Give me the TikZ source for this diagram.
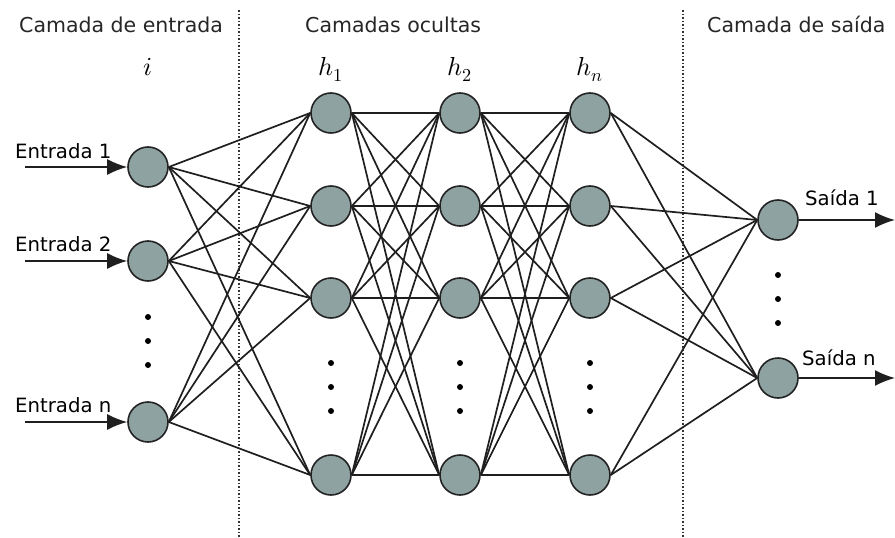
\documentclass[tikz,border=0pt]{standalone}
\usepackage{fontspec}
\setmainfont{DejaVu Sans}
\usepackage{unicode-math}
\setmathfont{Latin Modern Math}
\usetikzlibrary{arrows.meta}
\definecolor{neuronfill}{RGB}{142,162,162}
\definecolor{neuronline}{RGB}{35,35,35}
\begin{document}
\begin{tikzpicture}[x=1pt,y=-1pt,
  neuron/.style={circle,draw=neuronline,fill=neuronfill,line width=1.6pt,minimum size=40pt,inner sep=0pt},
  link/.style={line width=1.7pt,draw=black!88},
  io/.style={line width=1.7pt,draw=black!88,-{Latex[length=20pt,width=16pt]}},
  sep/.style={line width=1.5pt,dash pattern=on 1.5pt off 2pt,draw=black!80},
  head/.style={anchor=base west,inner sep=0pt,font=\fontsize{20.5}{24}\selectfont,text=black!85},
  iolabel/.style={anchor=base west,inner sep=0pt,font=\fontsize{19.7}{23}\selectfont},
  layerlabel/.style={anchor=base,inner sep=0pt,font=\fontsize{26}{30}\selectfont},
  dot/.style={circle,fill=black,minimum size=6pt,inner sep=0pt}]
\useasboundingbox (0,0) rectangle (895,538);

% layer separators
\draw[sep] (239,10) -- (239,538);
\draw[sep] (683,10) -- (683,538);

% headings
\node[head] (hin) at (19,32) {Camada de entrada};
\node[head] (hhid) at (305,32) {Camadas ocultas};
\node[head] (hout) at (707,32) {Camada de saída};

% layer symbols
\node[layerlabel] (li) at (148,75) {$i$};
\node[layerlabel] (lh1) at (331,75) {$h_{1}$};
\node[layerlabel] (lh2) at (460,75) {$h_{2}$};
\node[layerlabel] (lhn) at (590,75) {$h_{n}$};

% input layer
\node[neuron] (i1) at (148,167) {};
\node[neuron] (i2) at (148,261) {};
\node[neuron] (i3) at (148,422) {};
\node[dot] (di1) at (148,317) {};
\node[dot] (di2) at (148,341) {};
\node[dot] (di3) at (148,365) {};

% hidden layers
\foreach \c/\x in {a/331,b/460,c/590}{
  \node[neuron] (\c1) at (\x,113) {};
  \node[neuron] (\c2) at (\x,206) {};
  \node[neuron] (\c3) at (\x,298) {};
  \node[neuron] (\c4) at (\x,475) {};
  \node[dot] (\c d1) at (\x,363) {};
  \node[dot] (\c d2) at (\x,387) {};
  \node[dot] (\c d3) at (\x,411) {};
}

% output layer
\node[neuron] (o1) at (778,220) {};
\node[neuron] (o2) at (778,378) {};
\node[dot] (do1) at (778,275) {};
\node[dot] (do2) at (778,299) {};
\node[dot] (do3) at (778,323) {};

% fully connected weights between consecutive layers
\foreach \s in {1,2,3}{\foreach \t in {1,2,3,4}{\draw[link] (i\s.east) -- (a\t.west);}}
\foreach \s in {1,2,3,4}{\foreach \t in {1,2,3,4}{
  \draw[link] (a\s.east) -- (b\t.west);
  \draw[link] (b\s.east) -- (c\t.west);}}
\foreach \s in {1,2,3,4}{\foreach \t in {1,2}{\draw[link] (c\s.east) -- (o\t.west);}}

% inputs and outputs
\coordinate (e1) at (25,167);
\coordinate (e2) at (25,261);
\coordinate (e3) at (25,422);
\coordinate (s1) at (895,220);
\coordinate (s2) at (895,378);
\draw[io] (e1) -- (i1.west);
\draw[io] (e2) -- (i2.west);
\draw[io] (e3) -- (i3.west);
\draw[io] (o1.east) -- (s1);
\draw[io] (o2.east) -- (s2);
\node[iolabel] (te1) at (15,158) {Entrada 1};
\node[iolabel] (te2) at (15,251) {Entrada 2};
\node[iolabel] (te3) at (15,412) {Entrada n};
\node[iolabel] (ts1) at (805,205) {Saída 1};
\node[iolabel] (ts2) at (802,365) {Saída n};
\end{tikzpicture}
\end{document}
